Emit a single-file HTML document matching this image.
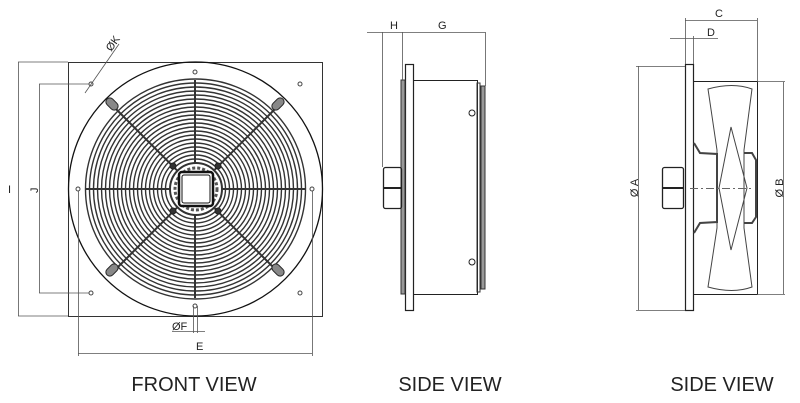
<!DOCTYPE html>
<html><head><style>
html,body{margin:0;padding:0;background:#fff;}
svg{display:block;}
text{font-family:"Liberation Sans",sans-serif;fill:#222;}
</style></head><body>
<svg id="s" width="800" height="403" viewBox="0 0 800 403" xmlns="http://www.w3.org/2000/svg">
<g fill="none" stroke="#222" stroke-width="1">
<!-- FRONT VIEW -->
<rect x="68.5" y="62.5" width="254" height="254" stroke="#333"/>
<circle cx="195.5" cy="189" r="127" stroke="#111" stroke-width="1.3"/>
<g id="rings" stroke="#333" stroke-width="1.4"></g>
<g stroke="#333" stroke-width="2">
<line x1="195" y1="80" x2="195" y2="298"/>
<line x1="86" y1="189" x2="305" y2="189"/>
<line x1="113" y1="106" x2="278" y2="272"/>
<line x1="278" y1="106" x2="113" y2="272"/>
</g>
<g fill="#888" stroke="#222">
<rect x="105" y="100" width="14" height="8" rx="4" transform="rotate(45 112 104)"/>
<rect x="271" y="100" width="14" height="8" rx="4" transform="rotate(-45 278 104)"/>
<rect x="105" y="266" width="14" height="8" rx="4" transform="rotate(-45 112 270)"/>
<rect x="271" y="266" width="14" height="8" rx="4" transform="rotate(45 278 270)"/>
</g>
<circle cx="196" cy="189" r="26" fill="#fff" stroke="#333" stroke-width="2"/>
<circle cx="196" cy="189" r="21" stroke="#555" stroke-width="3" stroke-dasharray="3 2"/>
<rect x="179" y="172" width="34" height="34" rx="3" fill="#fff" stroke="#111" stroke-width="2.5"/>
<rect x="182" y="175" width="28" height="28" rx="2" fill="#fff" stroke="#111" stroke-width="1"/>
<g fill="#333"><circle cx="173" cy="166" r="3"/><circle cx="218" cy="166" r="3"/><circle cx="173" cy="211" r="3"/><circle cx="218" cy="211" r="3"/></g>
<g fill="#fff" stroke="#444">
<circle cx="195" cy="72" r="2"/><circle cx="300" cy="84" r="2"/><circle cx="91" cy="84" r="2"/>
<circle cx="91" cy="293" r="2"/><circle cx="300" cy="293" r="2"/>
<circle cx="78" cy="189" r="2"/><circle cx="312" cy="189" r="2"/><circle cx="195" cy="306" r="2"/>
</g>
<g stroke="#555" stroke-width="0.8">
<line x1="18" y1="62" x2="68" y2="62"/><line x1="18" y1="316" x2="68" y2="316"/>
<line x1="18.5" y1="62" x2="18.5" y2="316"/>
<line x1="39" y1="84" x2="89" y2="84"/><line x1="39" y1="293" x2="89" y2="293"/>
<line x1="39.5" y1="84" x2="39.5" y2="293"/>
<line x1="78.5" y1="191" x2="78.5" y2="356"/><line x1="312.5" y1="191" x2="312.5" y2="356"/>
<line x1="78" y1="353.5" x2="312" y2="353.5"/>
<line x1="193.5" y1="306" x2="193.5" y2="333"/><line x1="197.5" y1="306" x2="197.5" y2="333"/>
<line x1="172" y1="331.5" x2="205" y2="331.5"/>
<line x1="85" y1="93" x2="119" y2="44"/>
</g>
<!-- SIDE VIEW 1 -->
<rect x="405.5" y="64.5" width="8" height="246" stroke="#222" stroke-width="1.2"/>
<rect x="401" y="80" width="4" height="214" fill="#999" stroke="#333"/>
<rect x="413.5" y="80.5" width="64" height="214" stroke="#222"/>
<rect x="477" y="83" width="3" height="209" stroke="#333"/>
<rect x="481" y="86" width="4" height="203" fill="#999" stroke="#333"/>
<rect x="383.5" y="167.5" width="18" height="41" rx="2" stroke="#222" stroke-width="1.3"/>
<line x1="384" y1="188" x2="401" y2="188" stroke="#222" stroke-width="2"/>
<circle cx="472" cy="113" r="3"/><circle cx="472" cy="262" r="3"/>
<g stroke="#555" stroke-width="0.8">
<line x1="367" y1="32.5" x2="485" y2="32.5"/>
<line x1="382.5" y1="32" x2="382.5" y2="167"/>
<line x1="402.5" y1="32" x2="402.5" y2="80"/>
<line x1="485.5" y1="32" x2="485.5" y2="86"/>
</g>
<!-- SIDE VIEW 2 -->
<rect x="685.5" y="64.5" width="8" height="246" stroke="#222" stroke-width="1.2"/>
<rect x="693.5" y="81.5" width="64" height="213" stroke="#222"/>
<rect x="662.5" y="167.5" width="21" height="41" rx="2" stroke="#222" stroke-width="1.3"/>
<line x1="663" y1="188" x2="683" y2="188" stroke="#222" stroke-width="2"/>
<path d="M708 89 Q733 82 752 89 L744 150 L744 228 L752 287 Q733 294 708 287 L717 228 L717 150 Z" stroke="#444"/>
<path d="M731 127 L747 188 L731 250 L719 188 Z" stroke="#444"/>
<path d="M694 143 L700 153 L717 154 L717 222 L700 223 L694 233" stroke="#444" stroke-width="2"/>
<path d="M744 153 L752 153 L756 160 L756 217 L752 223 L744 223" stroke="#444" stroke-width="2"/>
<line x1="690" y1="188.5" x2="752" y2="188.5" stroke="#666" stroke-dasharray="8 3 2 3"/>
<g stroke="#555" stroke-width="0.8">
<line x1="636" y1="66.5" x2="685" y2="66.5"/><line x1="636" y1="310.5" x2="685" y2="310.5"/>
<line x1="638.5" y1="66" x2="638.5" y2="310"/>
<line x1="757" y1="81.5" x2="785" y2="81.5"/><line x1="757" y1="294.5" x2="785" y2="294.5"/>
<line x1="783.5" y1="82" x2="783.5" y2="294"/>
<line x1="685.5" y1="18" x2="685.5" y2="64"/><line x1="757.5" y1="18" x2="757.5" y2="81"/>
<line x1="685" y1="20.5" x2="757" y2="20.5"/>
<line x1="693.5" y1="36" x2="693.5" y2="64"/>
<line x1="670" y1="38.5" x2="718" y2="38.5"/>
</g>
</g>
<g font-size="11">
<text x="8" y="193">I</text>
<text x="30" y="193" transform="rotate(-90 34 189)">J</text>
<text x="196" y="350">E</text>
<text x="172" y="330">ØF</text>
<text x="105" y="50" transform="rotate(-55 110 45)">ØK</text>
<text x="390" y="29">H</text>
<text x="438" y="29">G</text>
<text x="715" y="17">C</text>
<text x="707" y="36">D</text>
<text x="634" y="192" transform="rotate(-90 634 188)" text-anchor="middle">Ø A</text>
<text x="779" y="192" transform="rotate(-90 779 188)" text-anchor="middle">Ø B</text>
</g>
<g font-size="20">
<text x="194" y="391" text-anchor="middle">FRONT VIEW</text>
<text x="450" y="391" text-anchor="middle">SIDE VIEW</text>
<text x="722" y="391" text-anchor="middle">SIDE VIEW</text>
</g>
</svg>
<script>
var g=document.getElementById('rings'),ns='http://www.w3.org/2000/svg';
for(var r=30;r<=110;r+=4){var c=document.createElementNS(ns,'circle');c.setAttribute('cx','195.5');c.setAttribute('cy','189');c.setAttribute('r',r);g.appendChild(c);}
</script>
</body></html>
